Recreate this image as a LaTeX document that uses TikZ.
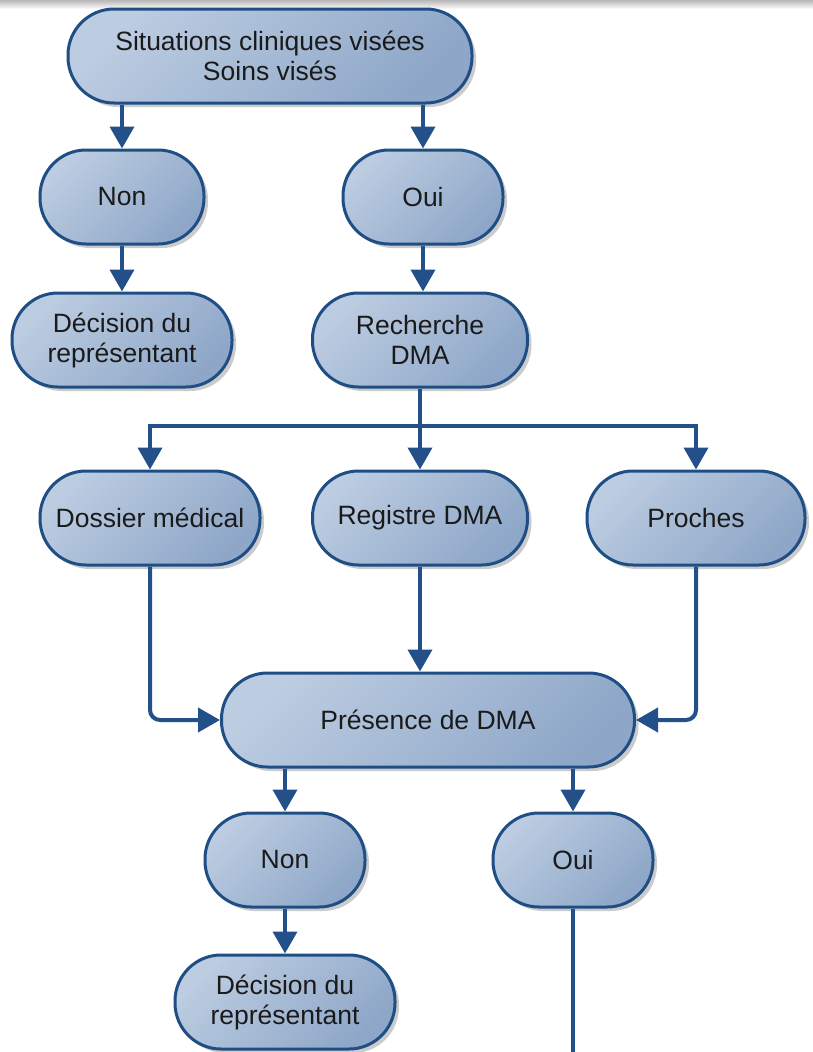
\documentclass[tikz,border=0pt]{standalone}
\usepackage{fontspec}
\setmainfont{Liberation Sans}
\usetikzlibrary{arrows.meta,shadows,calc}
\definecolor{bord}{HTML}{1F4E85}
\definecolor{lin}{HTML}{24508A}
\definecolor{fillA}{HTML}{BCCCE1}
\definecolor{fillB}{HTML}{8EA7C8}
\definecolor{txt}{HTML}{1A1A1A}
\tikzset{
  term/.style={draw=bord, line width=3pt, rounded corners=46pt,
    left color=fillA, right color=fillB, shading angle=45,
    drop shadow={shadow xshift=4pt, shadow yshift=-4pt, fill=black!45, opacity=.45},
    align=center, text=txt, inner sep=0pt,
    font=\fontsize{26.5}{30}\selectfont, minimum height=94pt},
  arr/.style={draw=lin, line width=4pt, -{Triangle[width=24pt,length=22pt]}},
  ln/.style={draw=lin, line width=3.5pt},
}
\begin{document}
\begin{tikzpicture}[x=1pt,y=1pt]
\useasboundingbox (0,0) rectangle (813,-1052);
\fill[white] (0,0) rectangle (813,-1052);
\shade[top color=black!28, bottom color=white] (0,0) rectangle (813,-9);

\node[term, minimum width=404pt] (top) at (270,-56) {Situations cliniques visées\\Soins visés};
\node[term, minimum width=164pt] (non1) at (122,-197) {Non};
\node[term, minimum width=160pt] (oui1) at (423,-197) {Oui};
\node[term, minimum width=220pt] (dec1) at (122,-340) {Décision du\\représentant};
\node[term, minimum width=215pt] (rech) at (420,-340) {Recherche\\DMA};
\node[term, minimum width=220pt] (doss) at (150,-518) {Dossier médical};
\node[term, minimum width=215pt] (reg) at (420,-518) {Registre DMA};
\node[term, minimum width=218pt] (proc) at (696,-518) {Proches};
\node[term, minimum width=413pt] (pres) at (428,-720) {Présence de DMA};
\node[term, minimum width=160pt] (non2) at (285,-860) {Non};
\node[term, minimum width=160pt] (oui2) at (573,-860) {Oui};
\node[term, minimum width=220pt] (dec2) at (285,-1002) {Décision du\\représentant};

\draw[arr] (top.south -| non1) -- (non1.north);
\draw[arr] (top.south -| oui1) -- (oui1.north);
\draw[arr] (non1) -- (dec1);
\draw[arr] (oui1.south) -- (oui1.south |- rech.north);

\coordinate (hb) at ($(rech.south)+(0,-37)$);
\draw[arr] (rech.south) -- (rech.south |- reg.north);
\draw[arr] (hb) -| (doss.north);
\draw[arr] (hb) -| (proc.north);

\draw[arr, rounded corners=10pt] (doss.south) |- (pres.west);
\draw[arr] (reg.south) -- (reg.south |- pres.north);
\draw[arr, rounded corners=10pt] (proc.south) |- (pres.east);

\draw[arr] (pres.south -| non2) -- (non2.north);
\draw[arr] (pres.south -| oui2) -- (oui2.north);
\draw[arr] (non2) -- (dec2);
\coordinate (bot) at (573,-1052);
\draw[ln] (oui2.south) -- (bot);
\end{tikzpicture}
\end{document}
